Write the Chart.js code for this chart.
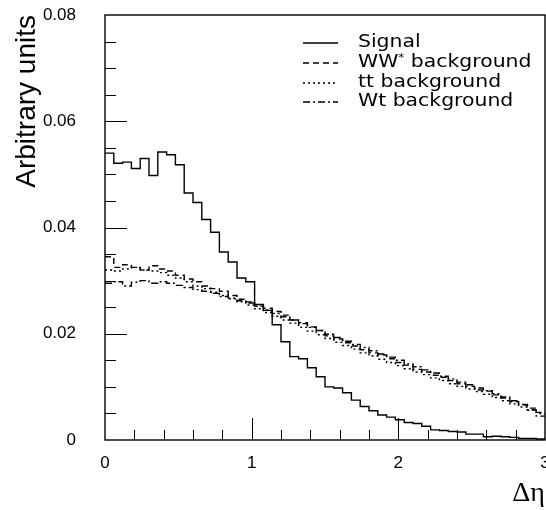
<!DOCTYPE html>
<html lang="en">

<head>
    <meta charset="UTF-8">
    <title>Delta eta distributions</title>
    <script src="https://cdn.jsdelivr.net/npm/chart.js@4.4.1/dist/chart.umd.min.js"></script>
    <style>
        html, body { margin: 0; padding: 0; background: #fff; }
        #wrap { width: 546px; height: 510px; }
    </style>
</head>

<body>
    <div id="wrap"><canvas id="myChart" width="546" height="510"></canvas></div>
    <script>
    // histogram binning
    var xMin = 0;
    var xMax = 3;
    var nBins = 50;

    var yTicks = [0, 0.02, 0.04, 0.06, 0.08];
    var xTicks = [0, 1, 2, 3];

    var seriesNames = ["Signal", "WW* background", "tt background", "Wt background"];

    var signal = [0.0540, 0.0521, 0.0523, 0.0511, 0.0530, 0.0498, 0.0542, 0.0537, 0.0518, 0.0465,
        0.0447, 0.0415, 0.0391, 0.0354, 0.0335, 0.0305, 0.0298, 0.0255, 0.0244, 0.0217,
        0.0185, 0.0157, 0.0153, 0.0136, 0.0119, 0.0100, 0.0098, 0.0089, 0.0075, 0.0063,
        0.0055, 0.0047, 0.0043, 0.0038, 0.0033, 0.0031, 0.0026, 0.0019, 0.0018, 0.0016,
        0.0015, 0.0011, 0.0011, 0.0006, 0.0007, 0.0006, 0.0005, 0.0003, 0.0003, 0.0002];

    var wwBkg = [0.0345, 0.0325, 0.0330, 0.0325, 0.0320, 0.0328, 0.0322, 0.0318, 0.0310, 0.0303,
        0.0298, 0.0290, 0.0285, 0.0280, 0.0272, 0.0265, 0.0260, 0.0252, 0.0248, 0.0242,
        0.0235, 0.0226, 0.0221, 0.0213, 0.0206, 0.0196, 0.0190, 0.0183, 0.0177, 0.0170,
        0.0164, 0.0160, 0.0153, 0.0146, 0.0141, 0.0133, 0.0128, 0.0122, 0.0118, 0.0112,
        0.0106, 0.0101, 0.0094, 0.0092, 0.0085, 0.0079, 0.0072, 0.0066, 0.0060, 0.0052];

    var ttBkg = [0.0320, 0.0318, 0.0322, 0.0325, 0.0320, 0.0318, 0.0315, 0.0310, 0.0305, 0.0298,
        0.0290, 0.0285, 0.0278, 0.0272, 0.0266, 0.0260, 0.0254, 0.0247, 0.0240, 0.0233,
        0.0226, 0.0220, 0.0212, 0.0205, 0.0198, 0.0191, 0.0184, 0.0178, 0.0171, 0.0164,
        0.0158, 0.0152, 0.0146, 0.0140, 0.0134, 0.0128, 0.0123, 0.0117, 0.0112, 0.0106,
        0.0101, 0.0096, 0.0091, 0.0086, 0.0080, 0.0074, 0.0068, 0.0062, 0.0056, 0.0050];

    var wtBkg = [0.0295, 0.0298, 0.0290, 0.0297, 0.0300, 0.0295, 0.0298, 0.0295, 0.0291, 0.0287,
        0.0283, 0.0280, 0.0276, 0.0270, 0.0267, 0.0262, 0.0258, 0.0252, 0.0245, 0.0238,
        0.0232, 0.0226, 0.0219, 0.0212, 0.0206, 0.0199, 0.0193, 0.0186, 0.0180, 0.0174,
        0.0168, 0.0162, 0.0156, 0.0150, 0.0143, 0.0138, 0.0132, 0.0126, 0.0120, 0.0115,
        0.0109, 0.0104, 0.0098, 0.0093, 0.0087, 0.0081, 0.0074, 0.0067, 0.0057, 0.0045];

    var dashes = [[], [6, 4], [2, 3], [7, 3, 2, 3]];

    // turn bin contents into step points (left edge of every bin + closing edge)
    function histPoints(values) {
        var w = (xMax - xMin) / nBins;
        var pts = values.map(function(v, i) {
            return { x: xMin + i * w, y: v };
        });
        pts.push({ x: xMax, y: values[values.length - 1] });
        return pts;
    }

    function makeSet(label, values, dash) {
        return {
            label: label,
            data: histPoints(values),
            stepped: 'before', // horizontal at the bin's own value, then the jump
            borderColor: '#000',
            borderWidth: 1.4,
            borderDash: dash,
            pointRadius: 0,
            fill: false
        };
    }

    // inward ticks, frame box and the legend
    var frameAndTicks = {
        id: 'frameAndTicks',
        afterDraw: function(chart) {
            var ctx = chart.ctx;
            var a = chart.chartArea;
            var xs = chart.scales.x;
            var ys = chart.scales.y;
            ctx.save();
            ctx.strokeStyle = '#000';
            ctx.lineWidth = 1.4;
            ctx.setLineDash([]);
            ctx.strokeRect(a.left, a.top, a.right - a.left, a.bottom - a.top);

            ctx.lineWidth = 1;
            ctx.beginPath();
            // y ticks every 0.005, long ones on labels
            for (var k = 1; k < 16; k++) {
                var v = k * 0.005;
                var py = Math.round(ys.getPixelForValue(v)) + 0.5;
                var len = (k % 4 === 0) ? 22 : 11;
                ctx.moveTo(a.left, py);
                ctx.lineTo(a.left + len, py);
            }
            // x ticks every 0.2, long ones on integers
            for (var j = 1; j < 15; j++) {
                var px = Math.round(xs.getPixelForValue(j * 0.2)) + 0.5;
                var l2 = (j % 5 === 0) ? 22 : 10;
                ctx.moveTo(px, a.bottom);
                ctx.lineTo(px, a.bottom - l2);
            }
            ctx.stroke();

            // legend
            var lx0 = 303, lx1 = 338, tx = 358;
            var rows = [43, 63, 83, 102];
            ctx.font = "17px 'DejaVu Sans'";
            ctx.fillStyle = '#000';
            ctx.textBaseline = 'middle';
            var sx = 1.2;
            seriesNames.forEach(function(name, i) {
                var y = rows[i];
                ctx.lineWidth = 1.4;
                ctx.setLineDash(dashes[i]);
                ctx.beginPath();
                ctx.moveTo(lx0, y);
                ctx.lineTo(lx1, y);
                ctx.stroke();
                ctx.setLineDash([]);
                ctx.save();
                ctx.translate(tx, y);
                ctx.scale(sx, 1);
                if (name.indexOf('*') > 0) {
                    var parts = name.split('*');
                    ctx.fillText(parts[0], 0, 0);
                    var w0 = ctx.measureText(parts[0]).width;
                    ctx.font = "10px 'DejaVu Sans'";
                    ctx.fillText('*', w0, -5);
                    ctx.font = "17px 'DejaVu Sans'";
                    ctx.fillText(parts[1], w0 + 5, 0);
                } else {
                    ctx.fillText(name, 0, 0);
                }
                ctx.restore();
            });
            ctx.restore();
        }
    };

    var ctx = document.getElementById('myChart').getContext('2d');
    var chart = new Chart(ctx, {
        type: 'line',
        data: {
            datasets: [
                makeSet(seriesNames[0], signal, dashes[0]),
                makeSet(seriesNames[1], wwBkg, dashes[1]),
                makeSet(seriesNames[2], ttBkg, dashes[2]),
                makeSet(seriesNames[3], wtBkg, dashes[3])
            ]
        },
        options: {
            responsive: false,
            animation: false,
            layout: { padding: { top: 15, right: 1, left: 0, bottom: 0 } },
            plugins: {
                legend: { display: false },
                tooltip: { enabled: false }
            },
            scales: {
                x: {
                    type: 'linear',
                    min: xMin,
                    max: xMax,
                    grid: { display: false, drawTicks: false },
                    border: { display: false },
                    afterBuildTicks: function(scale) {
                        scale.ticks = xTicks.map(function(v) { return { value: v }; });
                    },
                    ticks: {
                        padding: 13,
                        color: '#000',
                        maxRotation: 0,
                        font: { family: "'Liberation Sans', Arial, sans-serif", size: 17 },
                        callback: function(v) { return String(v); }
                    },
                    title: {
                        display: true,
                        text: 'Δη',
                        align: 'end',
                        color: '#000',
                        padding: { top: 0, bottom: 0 },
                        font: { family: "'Liberation Serif', serif", size: 28 }
                    },
                    afterFit: function(scale) {
                        scale.height = 70;
                        scale.paddingLeft = 0;
                        scale.paddingRight = 0;
                    }
                },
                y: {
                    min: 0,
                    max: 0.08,
                    grid: { display: false, drawTicks: false },
                    border: { display: false },
                    afterBuildTicks: function(scale) {
                        scale.ticks = yTicks.map(function(v) { return { value: v }; });
                    },
                    ticks: {
                        padding: 29,
                        color: '#000',
                        font: { family: "'Liberation Sans', Arial, sans-serif", size: 17 },
                        callback: function(v) { return v === 0 ? '0' : v.toFixed(2); }
                    },
                    title: {
                        display: true,
                        text: 'Arbitrary units',
                        align: 'end',
                        color: '#000',
                        padding: { top: 10, bottom: 0 },
                        font: { family: "'Liberation Sans', Arial, sans-serif", size: 28 }
                    },
                    afterFit: function(scale) {
                        scale.width = 105;
                        scale.paddingTop = 0;
                        scale.paddingBottom = 0;
                    }
                }
            }
        },
        plugins: [frameAndTicks]
    });
    </script>
</body>

</html>
